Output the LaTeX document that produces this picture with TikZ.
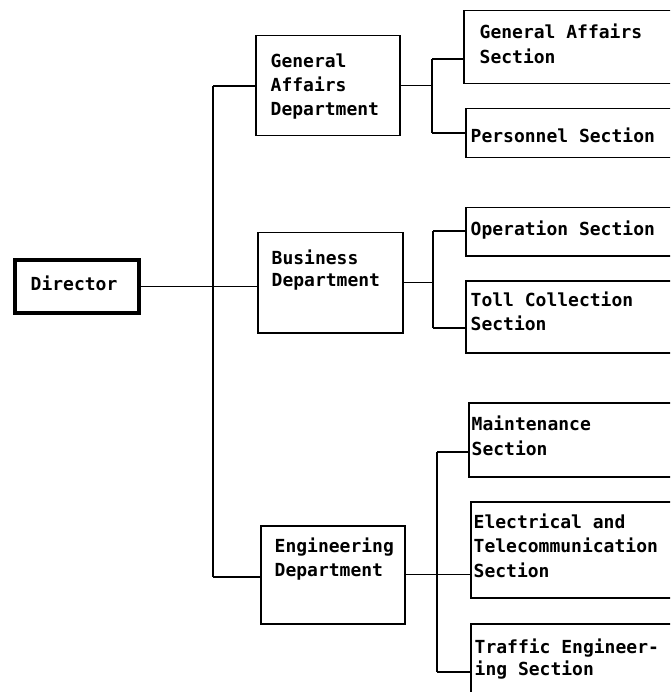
\documentclass[tikz,border=0pt]{standalone}
\usepackage{fontspec}
\newfontfamily\orgfont{DejaVu Sans Mono}
\begin{document}
\begin{tikzpicture}[x=1pt,y=-1pt,
  box/.style={draw, line width=1.5pt, rectangle, anchor=north west, inner sep=0pt},
  headbox/.style={box, line width=3.5pt},
  txt/.style={anchor=north west, inner sep=0pt, align=left, xshift=-1.5pt, yshift=0.7*#1pt,
    font=\orgfont\bfseries\fontsize{18}{#1}\selectfont},
  txt/.default=24,
  link/.style={line width=1.2pt},
  bar/.style={line width=2pt},
  trunkline/.style={line width=2.4pt}]
\useasboundingbox (0,0) rectangle (670,692);
\fill[white] (0,0) rectangle (670,692);
\clip (0,0) rectangle (670,692);

% director
\node[headbox, minimum width=124pt, minimum height=53pt] (director) at (13,258) {};
\node[txt] (director-t) at (32,290) {\strut Director};

% departments
\node[box, minimum width=144pt, minimum height=100pt] (gad) at (255,35) {};
\node[txt] (gad-t) at (272,67) {\strut General\\Affairs\\Department};
\node[box, minimum width=145pt, minimum height=100pt] (bd) at (257,232) {};
\node[txt=22] (bd-t) at (273,264) {\strut Business\\Department};
\node[box, minimum width=144pt, minimum height=98pt] (ed) at (260,525) {};
\node[txt] (ed-t) at (276,552) {\strut Engineering\\Department};

% sections (their right sides run off the page)
\node[box, minimum width=260pt, minimum height=73pt] (gas) at (463,10) {};
\node[txt=25] (gas-t) at (481,38) {\strut General Affairs\\Section};
\node[box, minimum width=260pt, minimum height=49pt] (per) at (465,108) {};
\node[txt] (per-t) at (472,142) {\strut Personnel Section};
\node[box, minimum width=260pt, minimum height=48pt] (ops) at (465,207) {};
\node[txt] (ops-t) at (472,235) {\strut Operation Section};
\node[box, minimum width=260pt, minimum height=72pt] (toll) at (465,280) {};
\node[txt] (toll-t) at (472,306) {\strut Toll Collection\\Section};
\node[box, minimum width=260pt, minimum height=74pt] (mnt) at (468,402) {};
\node[txt=25] (mnt-t) at (473,430) {\strut Maintenance\\Section};
\node[box, minimum width=260pt, minimum height=96pt] (elec) at (470,501) {};
\node[txt=24.5] (elec-t) at (475,528) {\strut Electrical and\\Telecommunication\\Section};
\node[box, minimum width=260pt, minimum height=120pt] (traf) at (470,623) {};
\node[txt=22] (traf-t) at (476,653) {\strut Traffic Engineer-\\ing Section};

% director to departments
\coordinate (tA) at (213,86);
\coordinate (tC) at (213,577);
\draw[link] (director.east) -- (director.east -| bd.west);
\draw[trunkline] (tA) -- (tC);
\draw[link] (tA) -- (tA -| gad.west);
\draw[link] (tC) -- (tC -| ed.west);

% general affairs department to its sections
\coordinate (gA) at (432,59);
\coordinate (gB) at (432,133);
\draw[link] (gad.east) -- (gad.east -| gA);
\draw[bar] (gA) -- (gB);
\draw[link] (gA) -- (gA -| gas.west);
\draw[link] (gB) -- (gB -| per.west);

% business department to its sections
\coordinate (bA) at (433,231);
\coordinate (bB) at (433,328);
\draw[link] (bd.east) -- (bd.east -| bA);
\draw[bar] (bA) -- (bB);
\draw[link] (bA) -- (bA -| ops.west);
\draw[link] (bB) -- (bB -| toll.west);

% engineering department to its sections
\coordinate (eA) at (437,452);
\coordinate (eB) at (437,672);
\draw[link] (ed.east) -- (ed.east -| elec.west);
\draw[bar] (eA) -- (eB);
\draw[link] (eA) -- (eA -| mnt.west);
\draw[link] (eB) -- (eB -| traf.west);
\end{tikzpicture}
\end{document}
